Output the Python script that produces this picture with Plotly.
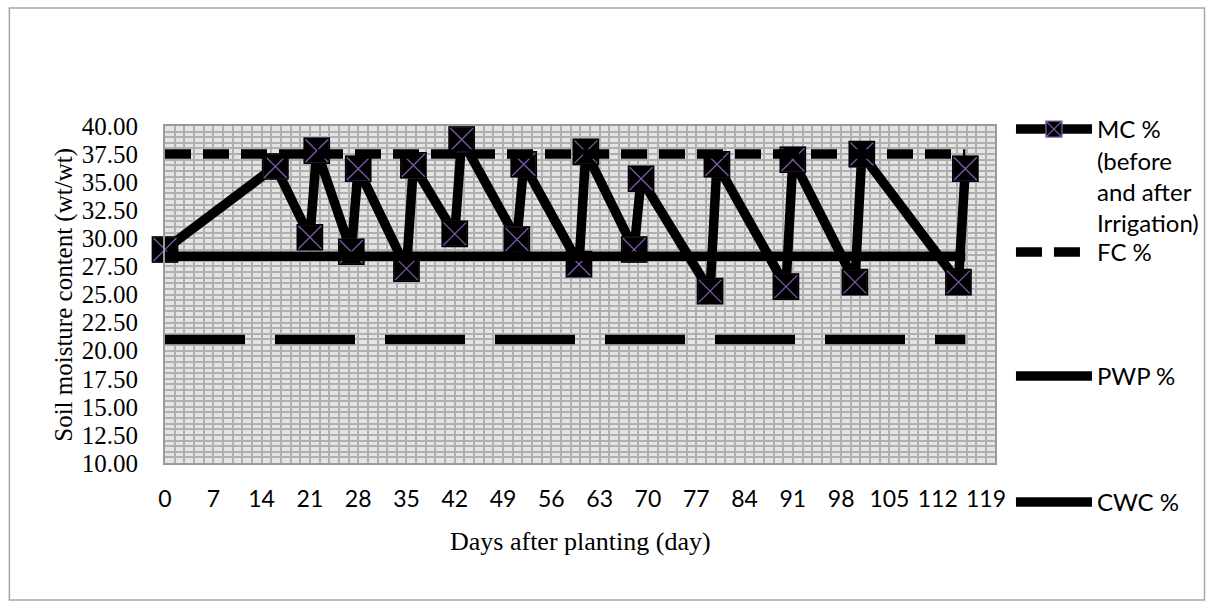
import plotly.graph_objects as go

# Moisture content measured just before and just after each irrigation
days = [0, 16, 21, 22, 27, 28, 35, 36, 42, 43, 51, 52, 60, 61, 68, 69,
        79, 80, 90, 91, 100, 101, 115, 116]
mc = [29.0, 36.4, 30.1, 37.8, 28.8, 36.2, 27.3, 36.5, 30.4, 38.8, 29.9, 36.6,
      27.7, 37.7, 29.0, 35.3, 25.3, 36.6, 25.7, 37.0, 26.1, 37.5, 26.1, 36.2]

# Reference moisture levels over the season
ref_days = [0, 116]
fc = [37.5, 37.5]
pwp = [21.0, 21.0]
cwc = [28.4, 28.4]

x_ticks = list(range(0, 120, 7))
y_ticks = [10 + 2.5 * i for i in range(13)]

W, H = 1216, 608
L, R, T, B = 165, 997, 126, 463


def px(xp):
    return (xp - L) / (R - L)


def py(yp):
    return (B - yp) / (B - T)


LINE_W = 9.5
MARK = 25
fig = go.Figure()

fig.add_trace(go.Scatter(
    x=days, y=mc, mode="lines+markers", name="MC %<br>(before<br>and after<br>Irrigation)",
    line=dict(color="black", width=LINE_W),
    marker=dict(symbol="square-x", size=MARK, color="black",
                line=dict(color="#7a5aa8", width=1.3)),
    cliponaxis=False, legend="legend",
))
# black rim over the marker edges
fig.add_trace(go.Scatter(
    x=days, y=mc, mode="markers", showlegend=False,
    marker=dict(symbol="square-open", size=MARK, color="black",
                line=dict(color="black", width=1.6)),
    cliponaxis=False, hoverinfo="skip",
))
fig.add_trace(go.Scatter(
    x=ref_days, y=fc, mode="lines", name="FC %",
    line=dict(color="black", width=LINE_W, dash="26px,12px"), legend="legend2",
))
fig.add_trace(go.Scatter(
    x=ref_days, y=pwp, mode="lines", name="PWP %",
    line=dict(color="black", width=LINE_W, dash="80px,30px"), legend="legend3",
))
fig.add_trace(go.Scatter(
    x=ref_days, y=cwc, mode="lines", name="CWC %",
    line=dict(color="black", width=LINE_W), legend="legend4",
))

leg_font = dict(family="Lato", size=24, color="black")
leg_common = dict(xanchor="left", yanchor="top", bgcolor="rgba(0,0,0,0)",
                  font=leg_font, itemwidth=76, valign="top", borderwidth=0)
leg_x = px(1013)

grid_col = "#b0b0b0"
axis_col = "#9a9a9a"

fig.update_layout(
    width=W, height=H,
    margin=dict(l=L, r=W - R, t=T, b=H - B),
    paper_bgcolor="white",
    plot_bgcolor="#e4e4e4",
    legend=dict(x=leg_x, y=py(107), **leg_common),
    legend2=dict(x=leg_x, y=py(230), **leg_common),
    legend3=dict(x=leg_x, y=py(354), **leg_common),
    legend4=dict(x=leg_x, y=py(480), **leg_common),
    xaxis=dict(
        range=[0, 120.3], tickmode="array", tickvals=x_ticks,
        ticktext=[str(v) for v in x_ticks],
        tickfont=dict(family="Lato", size=23, color="black"),
        ticklabelstandoff=14,
        showgrid=True, gridcolor=grid_col, gridwidth=1.5,
        minor=dict(dtick=1.4, tick0=0, showgrid=True, gridcolor=grid_col, gridwidth=1.5),
        showline=True, linecolor=axis_col, linewidth=2, mirror=True,
        zeroline=False, ticks="",
    ),
    yaxis=dict(
        range=[10, 40], tickmode="array", tickvals=y_ticks,
        ticktext=[f"{v:.2f}" for v in y_ticks],
        tickfont=dict(family="Liberation Serif", size=25, color="black"),
        ticklabelstandoff=20,
        showgrid=True, gridcolor=grid_col, gridwidth=1.5,
        minor=dict(dtick=0.5, tick0=10, showgrid=True, gridcolor=grid_col, gridwidth=1.5),
        showline=True, linecolor=axis_col, linewidth=2, mirror=True,
        zeroline=False, ticks="",
    ),
    shapes=[dict(type="rect", xref="paper", yref="paper",
                 x0=px(9), x1=px(1207), y0=py(600), y1=py(8),
                 line=dict(color="#a6a6a6", width=1.5), layer="below")],
    annotations=[
        dict(text="Days after planting (day)", xref="paper", yref="paper",
             x=0.5, y=py(541), xanchor="center", yanchor="middle", showarrow=False,
             font=dict(family="Liberation Serif", size=26, color="black")),
        dict(text="Soil moisture content (wt/wt)", xref="paper", yref="paper",
             x=px(63), y=0.5, xanchor="center", yanchor="middle", showarrow=False,
             textangle=-90,
             font=dict(family="Liberation Serif", size=25, color="black")),
    ],
)

fig.write_html("out.html")
